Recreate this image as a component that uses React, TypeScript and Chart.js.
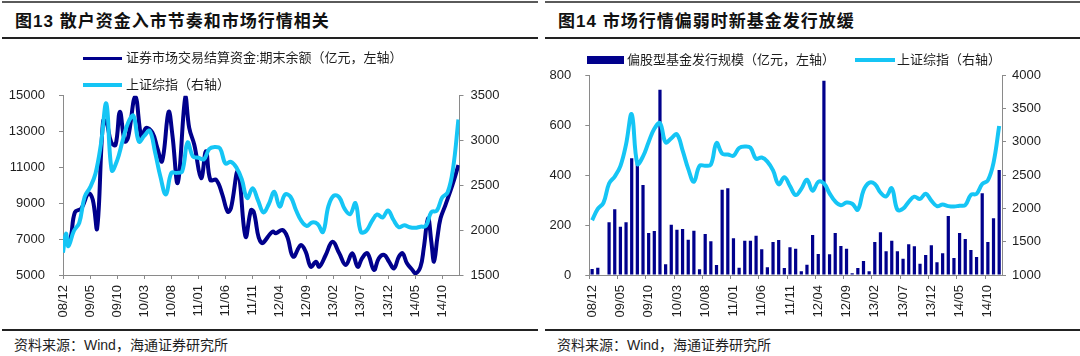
import React, { useEffect, useRef } from 'react';
import { Chart, registerables } from 'chart.js';

Chart.register(...registerables);

// ---------- data ----------
const monthLabels = [
  '08/12',
  '09/01', '09/02', '09/03', '09/04', '09/05', '09/06', '09/07', '09/08', '09/09', '09/10', '09/11', '09/12',
  '10/01', '10/02', '10/03', '10/04', '10/05', '10/06', '10/07', '10/08', '10/09', '10/10', '10/11', '10/12',
  '11/01', '11/02', '11/03', '11/04', '11/05', '11/06', '11/07', '11/08', '11/09', '11/10', '11/11', '11/12',
  '12/01', '12/02', '12/03', '12/04', '12/05', '12/06', '12/07', '12/08', '12/09', '12/10', '12/11', '12/12',
  '13/01', '13/02', '13/03', '13/04', '13/05', '13/06', '13/07', '13/08', '13/09', '13/10', '13/11', '13/12',
  '14/01', '14/02', '14/03', '14/04', '14/05', '14/06', '14/07', '14/08', '14/09', '14/10', '14/11', '14/12',
];

// Shanghai Composite, month-end (08/12 .. 14/12)
const shClose = [
  1821,
  1991, 2082, 2373, 2477, 2633, 2959, 3412, 2667, 2779, 2996, 3195, 3277,
  2989, 3051, 3109, 2870, 2592, 2398, 2638, 2639, 2656, 2979, 2820, 2808,
  2790, 2905, 2928, 2911, 2743, 2762, 2701, 2568, 2359, 2468, 2333, 2199,
  2292, 2428, 2263, 2397, 2373, 2225, 2103, 2047, 2086, 2069, 1980, 2269,
  2385, 2366, 2237, 2178, 2301, 1979, 1994, 2098, 2175, 2141, 2220, 2116,
  2033, 2056, 2033, 2026, 2039, 2048, 2202, 2217, 2364, 2420, 2683, 3235,
];

// left chart: start of the index line (months since 2008-12-01)
const shLeftHeadT = [0, 0.55];
const shLeftHeadV = [1750, 1960];

// settlement funds balance (亿元), time in months since 2008-12-01
const fundT = [
  0, 1.2, 2.2, 3.4, 4.7, 5.5, 6.3, 7.4, 8.0, 8.9, 9.7, 10.5, 11.4, 12.0, 13.35,
  14.5, 15.3, 16.5, 17.4, 18.3, 19.5, 20.2, 21.2, 22.6, 23.3, 24.25, 25.5, 26.4,
  27.2, 28.3, 29.4, 30.4, 31.0, 32.3, 33.7, 34.7, 35.2, 36.6, 38.7, 39.3, 40.5,
  41.4, 42.5, 43.9, 44.8, 45.75, 46.7, 47.3, 48.5, 49.75, 51.0, 52.2, 53.4, 54.4,
  55.2, 56.2, 57.4, 58.3, 59.3, 60.2, 61.1, 62.0, 62.7, 63.5, 64.5, 65.1, 66.0,
  66.6, 67.4, 68.0, 68.5, 69.1, 69.7, 70.6, 71.9, 73.0,
];
const fundV = [
  7000, 6900, 8500, 8720, 9550, 9200, 7600, 13600, 13550, 12400, 12250, 14100, 12450, 12650, 14950,
  12650, 13200, 12950, 12100, 11350, 14100, 12800, 10150, 14950, 13200, 12250, 10400, 11900,
  10300, 10300, 9500, 8530, 8720, 10760, 7140, 8620, 8530, 6800, 7420, 7330, 7510,
  7140, 6020, 6670, 6300, 5460, 5740, 5460, 6115, 6860, 6210, 5560, 6210, 5460,
  5930, 6210, 5280, 5930, 6115, 5740, 5370, 6020, 6210, 5650, 5280, 5090, 5460,
  6490, 8160, 6860, 5740, 7050, 8160, 8900, 10020, 11130,
];

// equity-fund issuance (亿元), 08/12 .. 14/12
const fundIssue = [
  24, 29, 0, 211, 263, 193, 211, 467, 447, 360,
  168, 176, 741, 43, 201, 181, 184, 141, 177, 23,
  164, 135, 40, 341, 347, 147, 29, 137, 137, 157,
  103, 31, 132, 140, 28, 111, 105, 15, 41, 160,
  84, 777, 83, 168, 116, 105, 7, 28, 56, 15,
  132, 171, 95, 137, 95, 65, 123, 115, 45, 80,
  119, 51, 87, 236, 68, 168, 144, 100, 72, 327,
  132, 227, 420,
];

const leftTickMonths = [0, 5, 10, 15, 20, 25, 30, 35, 40, 45, 50, 55, 60, 65, 70];
const leftTickLabels = ['08/12', '09/05', '09/10', '10/03', '10/08', '11/01', '11/06', '11/11', '12/04', '12/09', '13/02', '13/07', '13/12', '14/05', '14/10'];

const leftTitle = '图13 散户资金入市节奏和市场行情相关';
const rightTitle = '图14 市场行情偏弱时新基金发行放缓';
const fundLabel = '证券市场交易结算资金:期末余额（亿元，左轴）';
const shLabel = '上证综指（右轴）';
const issueLabel = '偏股型基金发行规模（亿元，左轴）';
const sourceText = '资料来源：Wind，海通证券研究所';

// ---------- styles ----------
const NAVY = '#00008C';
const LIGHT = '#15C5F5';
const AXIS = '#8a8a8a';
const TEXT = '#1e1e1e';
const FONT = '"Liberation Sans", "Noto Sans CJK SC", sans-serif';
const tickFont = { family: '"Liberation Sans", Arial, sans-serif', size: 13 };

function yAxis(position: string, min: number, max: number, step: number, width: number, padding: number) {
  return {
    position,
    min,
    max,
    afterFit: (s: any) => { s.width = width; },
    ticks: { stepSize: step, padding, font: tickFont, color: TEXT, callback: (v: any) => String(v) },
    grid: { drawOnChartArea: false, drawTicks: true, tickLength: 4, color: AXIS },
    border: { display: true, color: AXIS, width: 1 },
  };
}

function leftConfig(): any {
  const shPoints = [
    ...shLeftHeadT.map((t, i) => ({ x: t, y: shLeftHeadV[i] })),
    ...shClose.map((v, i) => ({ x: i + 1, y: v })),
  ];
  const fundPoints = fundT.map((t, i) => ({ x: t, y: fundV[i] }));
  return {
    type: 'line',
    data: {
      datasets: [
        { label: shLabel, data: shPoints, yAxisID: 'y1', borderColor: LIGHT, backgroundColor: LIGHT, borderWidth: 4, pointRadius: 0, tension: 0.4, fill: false, order: 0 },
        { label: fundLabel, data: fundPoints, yAxisID: 'y', borderColor: NAVY, backgroundColor: NAVY, borderWidth: 4, pointRadius: 0, tension: 0.4, fill: false, order: 1 },
      ],
    },
    options: {
      responsive: false,
      animation: false,
      devicePixelRatio: 1,
      layout: { padding: { top: 55.7, left: 0, right: 0, bottom: 0 } },
      plugins: { legend: { display: false }, tooltip: { enabled: false } },
      scales: {
        x: {
          type: 'linear',
          min: 0,
          max: 73.2,
          afterBuildTicks: (s: any) => { s.ticks = leftTickMonths.map((v) => ({ value: v })); },
          afterFit: (s: any) => { s.height = 55; },
          ticks: { autoSkip: false, minRotation: 90, maxRotation: 90, padding: 6, font: tickFont, color: TEXT, callback: (_v: any, i: number) => leftTickLabels[i] ?? '' },
          grid: { drawOnChartArea: false, drawTicks: true, tickLength: 4, color: AXIS },
          border: { display: true, color: AXIS, width: 1 },
        },
        y: yAxis('left', 5000, 15000, 2000, 63, 14),
        y1: yAxis('right', 1500, 3500, 500, 80.5, 7),
      },
    },
  };
}

function rightConfig(): any {
  return {
    type: 'bar',
    data: {
      labels: monthLabels,
      datasets: [
        { type: 'line', label: shLabel, data: shClose, yAxisID: 'y1', borderColor: LIGHT, backgroundColor: LIGHT, borderWidth: 4, pointRadius: 0, tension: 0.4, fill: false, order: 0 },
        { type: 'bar', label: issueLabel, data: fundIssue, yAxisID: 'y', backgroundColor: NAVY, borderWidth: 0, categoryPercentage: 1, barPercentage: 0.57, order: 1 },
      ],
    },
    options: {
      responsive: false,
      animation: false,
      devicePixelRatio: 1,
      layout: { padding: { top: 35, left: 0, right: 0, bottom: 0 } },
      plugins: { legend: { display: false }, tooltip: { enabled: false } },
      scales: {
        x: {
          type: 'category',
          offset: true,
          afterFit: (s: any) => { s.height = 55; },
          ticks: { autoSkip: false, minRotation: 90, maxRotation: 90, padding: 6, font: tickFont, color: TEXT, callback: (_v: any, i: number) => (i % 5 === 0 ? monthLabels[i] : '') },
          grid: { offset: true, drawOnChartArea: false, drawTicks: true, tickLength: 4, color: (ctx: any) => (ctx.index % 5 === 0 ? AXIS : 'rgba(0,0,0,0)') },
          border: { display: true, color: AXIS, width: 1 },
        },
        y: yAxis('left', 0, 800, 200, 49.3, 14),
        y1: yAxis('right', 1000, 4000, 500, 78, 6),
      },
    },
  };
}

const abs = (s: any) => ({ position: 'absolute', ...s });

function Panel({ left, title }: { left: number; title: string }) {
  return (
    <>
      <div style={abs({ left: left, top: 1, width: 536, height: 2, background: '#5a5a5a' })} />
      <div style={abs({ left: left + 13, top: 11, height: 21, lineHeight: '21px', fontSize: 17, fontWeight: 'bold', letterSpacing: 1, color: '#111', whiteSpace: 'nowrap' })}>{title}</div>
      <div style={abs({ left: left, top: 37, width: 536, height: 2, background: '#222' })} />
      <div style={abs({ left: left, top: 329, width: 536, height: 2, background: '#222' })} />
      <div style={abs({ left: left + 12, top: 336, height: 18, lineHeight: '18px', fontSize: 14, color: TEXT, whiteSpace: 'nowrap' })}>{sourceText}</div>
    </>
  );
}

function LegendText({ left, cy, text }: { left: number; cy: number; text: string }) {
  return <div style={abs({ left, top: cy - 9, height: 18, lineHeight: '18px', fontSize: 13, color: TEXT, whiteSpace: 'nowrap' })}>{text}</div>;
}

export default function App() {
  const leftRef = useRef<HTMLCanvasElement>(null);
  const rightRef = useRef<HTMLCanvasElement>(null);

  useEffect(() => {
    const c1 = new Chart(leftRef.current as HTMLCanvasElement, leftConfig());
    const c2 = new Chart(rightRef.current as HTMLCanvasElement, rightConfig());
    return () => { c1.destroy(); c2.destroy(); };
  }, []);

  return (
    <div style={{ position: 'fixed', left: 0, top: 0, width: 1080, height: 356, background: '#fff', overflow: 'hidden', fontFamily: FONT }}>
      <Panel left={2} title={leftTitle} />
      <Panel left={545} title={rightTitle} />

      <canvas ref={leftRef} width={540} height={290} style={abs({ left: 0, top: 40, width: 540, height: 290 })} />
      <canvas ref={rightRef} width={540} height={290} style={abs({ left: 540, top: 40, width: 540, height: 290 })} />

      {/* left legend */}
      <div style={abs({ left: 83, top: 56.5, width: 39, height: 3.6, background: NAVY })} />
      <LegendText left={126} cy={58.3} text={fundLabel} />
      <div style={abs({ left: 83, top: 83.2, width: 39, height: 3.6, background: LIGHT })} />
      <LegendText left={126} cy={85} text={shLabel} />

      {/* right legend */}
      <div style={abs({ left: 587, top: 56, width: 36.5, height: 8.3, background: NAVY })} />
      <LegendText left={627} cy={60} text={issueLabel} />
      <div style={abs({ left: 855, top: 58.2, width: 40, height: 3.6, background: LIGHT })} />
      <LegendText left={897} cy={60} text={shLabel} />
    </div>
  );
}
